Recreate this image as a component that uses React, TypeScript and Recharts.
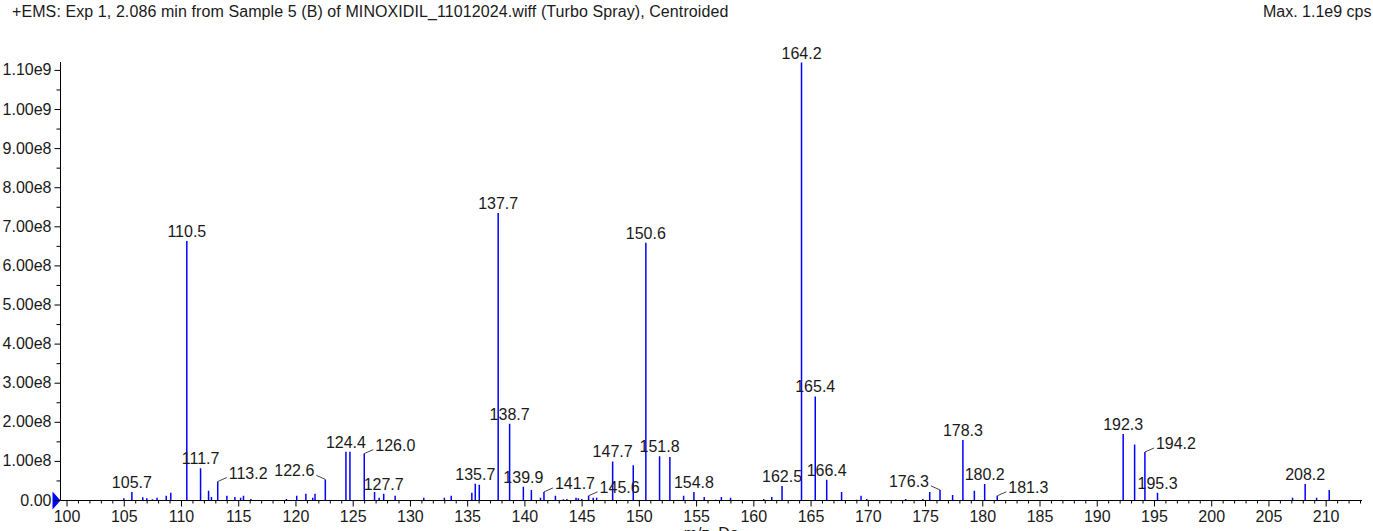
import { BarChart, Bar, XAxis, YAxis, LabelList, ReferenceDot } from "recharts"

const FONT = "'Liberation Sans', Arial, sans-serif"

const peakMz = [
  105.0, 105.7, 106.65, 107.0, 107.5, 107.9, 108.7, 109.1, 110.5, 111.7, 112.4, 112.65, 113.2,
  114.0, 114.7, 115.2, 115.45, 116.1, 119.2, 120.1, 120.9, 121.5, 121.7, 122.6, 124.4, 124.75,
  126.0, 126.9, 127.3, 127.7, 128.7, 131.2, 133.0, 133.6, 135.4, 135.7, 136.05, 137.7, 138.7,
  139.9, 140.6, 141.4, 141.7, 142.7, 143.4, 143.7, 144.5, 144.7, 145.0, 145.6, 146.0, 146.3,
  147.7, 149.5, 150.6, 151.8, 152.7, 153.9, 154.8, 155.7, 156.7, 157.2, 158.0, 160.9, 161.6,
  162.5, 164.2, 165.4, 166.4, 167.7, 169.0, 169.4, 169.9, 173.3, 174.8, 175.4, 176.3, 177.4,
  178.3, 179.3, 180.2, 181.3, 192.3, 193.3, 194.2, 195.3, 207.1, 208.2, 209.2, 210.3,
]

const peakIntensity = [
  6e6, 2.2e7, 8e6, 6e6, 3e6, 7e6, 1.2e7, 2e7, 6.64e8, 8.25e7, 2.5e7, 9e6, 4.85e7,
  1.2e7, 9e6, 7e6, 1.2e7, 4e6, 4e6, 1.2e7, 1.7e7, 7e6, 1.7e7, 5.4e7, 1.25e8, 1.25e8,
  1.2e8, 2.2e7, 7e6, 1.7e7, 1.2e7, 7e6, 7e6, 1.2e7, 2e7, 4.3e7, 4e7, 7.35e8, 1.96e8,
  3.5e7, 2.7e7, 7e6, 2.2e7, 1.2e7, 3e6, 4e6, 7e6, 6e6, 4e6, 1.2e7, 7e6, 7e6,
  1.0e8, 9e7, 6.59e8, 1.13e8, 1.11e8, 1.2e7, 2.2e7, 9e6, 2e6, 9e6, 7e6, 4e6, 9e6,
  3.7e7, 1.12e9, 2.66e8, 5.3e7, 2.2e7, 2e6, 1.2e7, 4e6, 4e6, 4e6, 2.2e7, 2.7e7, 1.4e7,
  1.55e8, 2.5e7, 4.25e7, 1.2e7, 1.7e8, 1.43e8, 1.24e8, 2e7, 7e6, 4.25e7, 7e6, 2.7e7,
]

const labeledPeaks = [
  105.7, 110.5, 111.7, 113.2, 122.6, 124.4, 126.0, 127.7, 135.7, 137.7, 138.7, 139.9, 141.7,
  145.6, 147.7, 150.6, 151.8, 154.8, 162.5, 164.2, 165.4, 166.4, 176.3, 178.3, 180.2, 181.3,
  192.3, 194.2, 195.3, 208.2,
]

// labels pushed aside with a short leader line
const leaderSide: Record<string, "left" | "right"> = {
  "113.2": "right",
  "122.6": "left",
  "126.0": "right",
  "141.7": "right",
  "145.6": "right",
  "176.3": "left",
  "181.3": "right",
  "194.2": "right",
}

const xTicks = Array.from({ length: 114 }, (_, i) => 100 + i)
const yTicks = Array.from({ length: 23 }, (_, i) => i * 5e7)

const data = peakMz.map((mz, i) => ({
  mz,
  intensity: peakIntensity[i],
  label: labeledPeaks.includes(mz) ? mz.toFixed(1) : undefined,
}))

function XTick({ x, y, payload }: any) {
  const v = payload.value
  const major = v % 5 === 0
  return (
    <g>
      <line x1={x} x2={x} y1={y} y2={y + (major ? 6 : 3)} stroke="#000" />
      {major && (
        <text x={x} y={y + 21} textAnchor="middle" fontSize={16} fontFamily={FONT} fill="#1a1a1a">
          {v}
        </text>
      )}
    </g>
  )
}

function YTick({ x, y, payload }: any) {
  const v = payload.value
  const major = Math.round(v / 5e7) % 2 === 0
  const text = v === 0 ? "0.00" : v.toExponential(2).replace("e+", "e")
  return (
    <g>
      <line x1={x - (major ? 6 : 4)} x2={x} y1={y} y2={y} stroke="#000" />
      {major && (
        <text x={x - 9} y={y + 5} textAnchor="end" fontSize={16} fontFamily={FONT} fill="#1a1a1a">
          {text}
        </text>
      )}
    </g>
  )
}

function PeakLabel(props: any) {
  const { value } = props
  if (value == null || value === "") return null
  const vb = props.viewBox ?? props
  const cx = vb.x + vb.width / 2
  const top = vb.y
  const side = leaderSide[value]
  if (side) {
    const dir = side === "right" ? 1 : -1
    return (
      <g>
        <line x1={cx} y1={top} x2={cx + dir * 9} y2={top - 4} stroke="#444" strokeWidth={1} />
        <text
          x={cx + dir * 11}
          y={top - 3}
          textAnchor={side === "right" ? "start" : "end"}
          fontSize={16}
          fontFamily={FONT}
          fill="#1a1a1a"
        >
          {value}
        </text>
      </g>
    )
  }
  return (
    <text x={cx} y={top - 4} textAnchor="middle" fontSize={16} fontFamily={FONT} fill="#1a1a1a">
      {value}
    </text>
  )
}

const ZeroMarker = (p: any) => (
  <polygon points={`${p.cx},${p.cy} ${p.cx - 8},${p.cy - 9} ${p.cx - 8},${p.cy + 9}`} fill="#0000ff" />
)

export default function App() {
  return (
    <div style={{ position: "absolute", left: 0, top: 0, width: 1373, height: 531, fontFamily: FONT, color: "#1a1a1a" }}>
      <div style={{ position: "absolute", left: 12, top: 3.5, fontSize: 16, lineHeight: "16px", letterSpacing: 0.09, whiteSpace: "nowrap" }}>
        +EMS: Exp 1, 2.086 min from Sample 5 (B) of MINOXIDIL_11012024.wiff (Turbo Spray), Centroided
      </div>
      <div style={{ position: "absolute", left: 1263, top: 3.5, fontSize: 16, lineHeight: "16px", whiteSpace: "nowrap" }}>
        Max. 1.1e9 cps
      </div>
      <BarChart width={1373} height={531} data={data} margin={{ top: 62, right: 11, bottom: 0, left: 0 }}>
        <XAxis
          dataKey="mz"
          type="number"
          domain={[99.43, 213.13]}
          allowDataOverflow
          ticks={xTicks}
          interval={0}
          tick={<XTick />}
          tickLine={false}
          tickSize={0}
          tickMargin={0}
          height={30.5}
          axisLine={{ stroke: "#000" }}
          label={{ value: "m/z, Da", position: "insideBottom", offset: -8, fontSize: 16, fontFamily: FONT, fill: "#1a1a1a" }}
        />
        <YAxis
          type="number"
          domain={[0, 1.1215e9]}
          allowDataOverflow
          ticks={yTicks}
          interval={0}
          tick={<YTick />}
          tickLine={false}
          tickSize={0}
          tickMargin={0}
          width={60.5}
          axisLine={{ stroke: "#000" }}
        />
        <Bar dataKey="intensity" fill="#0000ff" barSize={1.5} isAnimationActive={false}>
          <LabelList dataKey="label" content={PeakLabel} />
        </Bar>
        <ReferenceDot x={99.43} y={0} r={0} ifOverflow="visible" shape={ZeroMarker} />
      </BarChart>
    </div>
  )
}
